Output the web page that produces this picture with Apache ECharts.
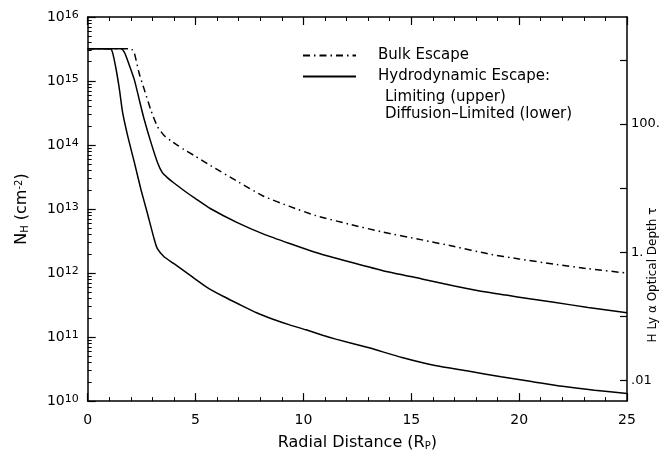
<!DOCTYPE html>
<html>
<head>
<meta charset="utf-8">
<script src="https://cdn.jsdelivr.net/npm/echarts@6/dist/echarts.min.js"></script>
<style>
  html, body { margin: 0; padding: 0; background: #fff; }
  #chart { width: 670px; height: 456px; }
</style>
</head>
<body>
<div id="chart"></div>
<script>
// radial distance (R_P) and column density N_H (cm^-2)
const bulkX = [0, 1.95, 2.05, 2.16, 2.39, 2.62, 2.93, 3.23, 3.54, 3.85, 4.15, 4.46, 4.92, 5.68, 6.91, 8.13, 9.36, 10.58, 12.12, 13.65, 15.49, 17, 18.55, 20, 21.61, 23.2, 25];
const bulkN = [3.2e15, 3.2e15, 3.1e15, 2.75e15, 1.3e15, 7.4e14, 3.5e14, 1.95e14, 1.41e14, 1.17e14, 1.0e14, 8.5e13, 6.9e13, 4.8e13, 2.75e13, 1.6e13, 1.1e13, 7.9e12, 5.8e12, 4.4e12, 3.3e12, 2.6e12, 2.0e12, 1.66e12, 1.38e12, 1.17e12, 1.0e12];

const limitX = [0, 1.55, 1.7, 1.85, 2.16, 2.39, 2.62, 2.93, 3.23, 3.46, 3.69, 4.0, 4.46, 5.0, 5.68, 6.91, 8.13, 9.36, 10.58, 12.12, 13.65, 15.49, 17, 18.55, 20, 21.61, 23.2, 25];
const limitN = [3.2e15, 3.2e15, 2.8e15, 2.1e15, 1.05e15, 5.1e14, 2.5e14, 1.1e14, 5.4e13, 3.7e13, 3.1e13, 2.55e13, 1.95e13, 1.45e13, 1.02e13, 6.2e12, 4.1e12, 2.9e12, 2.1e12, 1.5e12, 1.1e12, 8.1e11, 6.3e11, 5.0e11, 4.2e11, 3.5e11, 2.9e11, 2.4e11];

const diffX = [0, 1.05, 1.15, 1.32, 1.47, 1.62, 1.85, 2.16, 2.47, 2.77, 3.08, 3.23, 3.54, 4.0, 4.77, 5.53, 6.3, 7.06, 7.83, 8.59, 9.36, 10.12, 10.89, 11.5, 13.04, 14.57, 16.1, 17.63, 19.16, 20.5, 22, 23.5, 25];
const diffN = [3.2e15, 3.2e15, 2.8e15, 1.5e15, 7.4e14, 3.2e14, 1.4e14, 5.4e13, 2.0e13, 8.5e12, 3.4e12, 2.4e12, 1.8e12, 1.4e12, 9.1e11, 6.0e11, 4.3e11, 3.2e11, 2.4e11, 1.9e11, 1.55e11, 1.3e11, 1.07e11, 9.3e10, 6.8e10, 4.8e10, 3.6e10, 2.95e10, 2.4e10, 2.05e10, 1.7e10, 1.48e10, 1.32e10];

// right axis: Ly alpha optical depth, a tick every decade, a label every second one
const tauTicks = [0.01, 0.1, 1, 10, 100, 1000];
const tauLabelValues = [0.01, 1, 100];
const tauLabels = { '2': '100.', '0': '1.', '-2': '.01' };
const tauMin = Math.pow(10, -2.327);
const tauMax = Math.pow(10, 3.673);

const FONT = 'DejaVu Sans';
const pairs = (xs, ys) => xs.map((x, i) => [x, ys[i]]);

const chart = echarts.init(document.getElementById('chart'));

const xCommon = {
  type: 'value', min: 0, max: 25, interval: 5,
  axisLine: { show: true, onZero: false, lineStyle: { color: '#000', width: 1.5 } },
  axisTick: { show: true, inside: true, length: 8, lineStyle: { color: '#000', width: 1.2 } },
  minorTick: { show: true, splitNumber: 5, length: 4, lineStyle: { color: '#000', width: 1 } },
  splitLine: { show: false }
};

const lineSeries = (name, data, type) => ({
  name: name, type: 'line', data: data,
  symbol: 'none', showSymbol: false, silent: true,
  smooth: 0.2,
  lineStyle: { color: '#000', width: 1.5, type: type },
  itemStyle: { color: '#000' }
});

chart.setOption({
  animation: false,
  backgroundColor: '#fff',
  grid: { left: 83, right: 43, top: 17, bottom: 53 },
  xAxis: [
    Object.assign({}, xCommon, {
      position: 'bottom',
      name: '{n|Radial Distance (R}{sub|P}{n|)}',
      nameLocation: 'middle', nameGap: 30,
      nameTextStyle: {
        rich: {
          n: { fontFamily: FONT, fontSize: 16, color: '#000', lineHeight: 16, verticalAlign: 'top' },
          sub: { fontFamily: FONT, fontSize: 10, color: '#000', lineHeight: 10, verticalAlign: 'bottom', padding: [9, 0, 0, 0] }
        }
      },
      axisLabel: { fontFamily: FONT, fontSize: 14, color: '#000', margin: 12 }
    }),
    Object.assign({}, xCommon, { position: 'top', axisLabel: { show: false } })
  ],
  yAxis: [
    {
      type: 'log', logBase: 10, min: 1e10, max: 1e16, position: 'left',
      name: '{n|N}{sub|H}{n| (cm}{sup|-2}{n|)}',
      nameLocation: 'middle', nameGap: 50, nameRotate: 90,
      nameTextStyle: {
        rich: {
          n: { fontFamily: FONT, fontSize: 16, color: '#000', lineHeight: 16, verticalAlign: 'middle' },
          sub: { fontFamily: FONT, fontSize: 10, color: '#000', lineHeight: 10, verticalAlign: 'bottom', padding: [12, 0, 0, 0] },
          sup: { fontFamily: FONT, fontSize: 10, color: '#000', lineHeight: 10, verticalAlign: 'top', padding: [0, 0, 12, 0] }
        }
      },
      axisLine: { show: true, onZero: false, lineStyle: { color: '#000', width: 1.5 } },
      axisTick: { show: true, inside: true, length: 8, lineStyle: { color: '#000', width: 1.2 } },
      minorTick: { show: true, splitNumber: 9, length: 4, lineStyle: { color: '#000', width: 1 } },
      splitLine: { show: false },
      axisLabel: {
        margin: 9,
        formatter: v => '{b|10}{s|' + Math.round(Math.log10(v)) + '}',
        rich: {
          b: { fontFamily: FONT, fontSize: 14, color: '#000', lineHeight: 14, verticalAlign: 'bottom' },
          s: { fontFamily: FONT, fontSize: 11, color: '#000', lineHeight: 11, verticalAlign: 'top', padding: [0, 0, 8, 0] }
        }
      }
    },
    {
      type: 'log', logBase: 10, min: tauMin, max: tauMax, position: 'right',
      // without onZero:false the ticks jump to x = 0 on the left edge
      axisLine: { show: true, onZero: false, lineStyle: { color: '#000', width: 1.5 } },
      axisTick: { show: true, inside: true, length: 7, customValues: tauTicks, lineStyle: { color: '#000', width: 1.2 } },
      splitLine: { show: false },
      axisLabel: {
        customValues: tauLabelValues,
        fontFamily: FONT, fontSize: 13, color: '#000', margin: 4,
        formatter: v => tauLabels[Math.round(Math.log10(v))] || ''
      }
    }
  ],
  legend: {
    data: ['Bulk Escape', 'Hydrodynamic Escape:'],
    orient: 'vertical', left: 302, top: 48, padding: 0,
    itemWidth: 53, itemHeight: 12, itemGap: 6,
    selectedMode: false,
    itemStyle: { color: 'rgba(0,0,0,0)', borderColor: 'rgba(0,0,0,0)', borderWidth: 0, opacity: 0 },
    textStyle: { fontFamily: FONT, fontSize: 15, color: '#000', padding: [0, 0, 0, 17] }
  },
  graphic: [
    {
      type: 'text', left: 385, top: 89, silent: true,
      style: {
        text: 'Limiting (upper)\nDiffusion–Limited (lower)',
        font: '15px "DejaVu Sans"', lineHeight: 17, fill: '#000'
      }
    },
    {
      type: 'text', x: 653, y: 275, rotation: Math.PI / 2, silent: true,
      style: {
        text: 'H Ly α Optical Depth τ',
        font: '12px "DejaVu Sans"', fill: '#000', align: 'center', verticalAlign: 'middle'
      }
    }
  ],
  series: [
    lineSeries('Bulk Escape', pairs(bulkX, bulkN), [7, 4, 1.5, 4]),
    lineSeries('Hydrodynamic Escape:', pairs(limitX, limitN), 'solid'),
    lineSeries('Diffusion-Limited', pairs(diffX, diffN), 'solid')
  ]
});
</script>
</body>
</html>
